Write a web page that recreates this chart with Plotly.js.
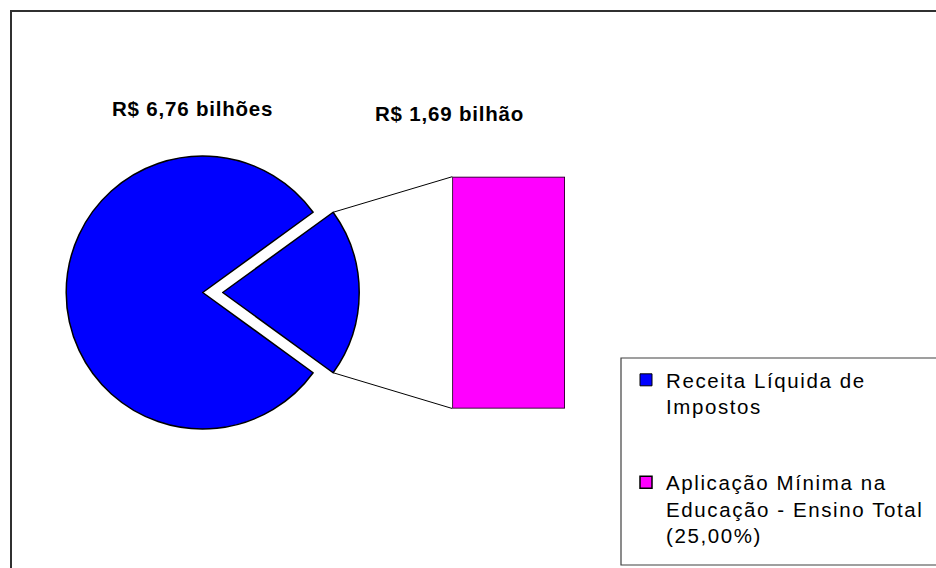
<!DOCTYPE html>
<html>
<head>
<meta charset="utf-8">
<script src="https://cdn.plot.ly/plotly-3.0.1.min.js"></script>
<style>
  html, body { margin: 0; padding: 0; background: #ffffff; }
  #chart { width: 936px; height: 568px; }
  .legendtext { letter-spacing: 1.6px; }
  .annotation-text { letter-spacing: 0.8px; }
</style>
</head>
<body>
<div id="chart"></div>
<script>
// ---- data ----
const sliceLabels = ['Receita Líquida de Impostos', 'Aplicação Mínima na Educação - Ensino Total (25,00%)'];
const sliceValues = [6.76, 1.69];          // R$ bilhões
const legendNames = ['Receita Líquida de<br>Impostos', 'Aplicação Mínima na<br>Educação - Ensino Total<br>(25,00%)'];
const dataLabels = ['R$ 6,76 bilhões', 'R$ 1,69 bilhão'];
const barCategory = ['Outros'];

// ---- layout helpers (pixels of the 936x568 page) ----
const W = 936, H = 568;
const pieCx = 202.7, pieCy = 292.5, pieR = 136.5, pullPx = 20;
const pull = pullPx / pieR;
const half = pieR * (1 + pull);
const pieDomX = [(pieCx - half) / W, (pieCx + half) / W];
const pieDomY = [1 - (pieCy + half) / H, 1 - (pieCy - half) / H];
const barDomX = [452.3 / W, 565 / W];
const barDomY = [1 - 408.5 / H, 1 - 176.7 / H];

const BLUE = '#0000FF', MAGENTA = '#FF00FF';

const total = sliceValues[0] + sliceValues[1];
const smallFrac = sliceValues[1] / total;
// pie rotation so the small slice is centred at 3 o'clock
const rotation = 90 - 360 * (1 - smallFrac / 2) + 360;
const halfAng = Math.PI * smallFrac;

const traces = [
  {
    type: 'pie',
    labels: sliceLabels,
    values: sliceValues,
    sort: false,
    direction: 'clockwise',
    rotation: rotation,
    pull: [0, pull],
    marker: { colors: [BLUE, BLUE], line: { color: '#000000', width: 1.5 } },
    textinfo: 'none',
    hoverinfo: 'label+value',
    showlegend: false,
    domain: { x: pieDomX, y: pieDomY }
  },
  {
    type: 'bar',
    name: legendNames[0],
    x: barCategory,
    y: [null],
    marker: { color: BLUE, line: { color: '#000000', width: 1 } },
    legendgroup: 'g1',
    xaxis: 'x', yaxis: 'y',
    hoverinfo: 'skip'
  },
  {
    type: 'bar',
    name: legendNames[1],
    x: barCategory,
    y: [sliceValues[1]],
    width: [1],
    marker: { color: MAGENTA, line: { color: '#000000', width: 1.5 } },
    legendgroup: 'g2',
    xaxis: 'x', yaxis: 'y',
    hoverinfo: 'y'
  }
];

// connector lines from the pulled slice edge to the bar corners
const sx = pieCx + pullPx + pieR * Math.cos(halfAng);
const syTop = pieCy - pieR * Math.sin(halfAng);
const syBot = pieCy + pieR * Math.sin(halfAng);

const shapes = [
  { type: 'line', xref: 'paper', yref: 'paper',
    x0: sx / W, y0: 1 - syTop / H, x1: barDomX[0], y1: barDomY[1],
    line: { color: '#000000', width: 1 } },
  { type: 'line', xref: 'paper', yref: 'paper',
    x0: sx / W, y0: 1 - syBot / H, x1: barDomX[0], y1: barDomY[0],
    line: { color: '#000000', width: 1 } },
  // legend frame
  { type: 'rect', xref: 'paper', yref: 'paper',
    x0: 621 / W, y0: 1 - 565 / H, x1: 1.05, y1: 1 - 358 / H,
    line: { color: '#404040', width: 1.2 }, fillcolor: 'rgba(0,0,0,0)' },
  // chart area frame
  { type: 'rect', xref: 'paper', yref: 'paper',
    x0: 11 / W, y0: -0.05, x1: 1.05, y1: 1 - 11 / H,
    line: { color: '#303030', width: 2 }, fillcolor: 'rgba(0,0,0,0)' }
];

const labelFont = { family: 'Liberation Sans, Arial, sans-serif', size: 20.5, color: '#000000', weight: 'bold' };
const annotations = [
  { xref: 'paper', yref: 'paper', x: 192.5 / W, y: 1 - 108.5 / H,
    xanchor: 'center', yanchor: 'middle', showarrow: false,
    text: '<b>' + dataLabels[0] + '</b>', font: labelFont },
  { xref: 'paper', yref: 'paper', x: 449 / W, y: 1 - 113 / H,
    xanchor: 'center', yanchor: 'middle', showarrow: false,
    text: '<b>' + dataLabels[1] + '</b>', font: labelFont }
];

const layout = {
  width: W, height: H,
  margin: { l: 0, r: 0, t: 0, b: 0, autoexpand: false },
  paper_bgcolor: '#ffffff',
  plot_bgcolor: 'rgba(0,0,0,0)',
  barmode: 'overlay',
  bargap: 0,
  xaxis: { domain: barDomX, range: [-0.5, 0.5], visible: false, fixedrange: true },
  yaxis: { domain: barDomY, range: [0, sliceValues[1]], visible: false, fixedrange: true },
  showlegend: true,
  legend: {
    x: 626 / W, y: 1 - 360 / H, xanchor: 'left', yanchor: 'top',
    bgcolor: 'rgba(0,0,0,0)', borderwidth: 0,
    font: { family: 'Liberation Sans, Arial, sans-serif', size: 20.5, color: '#000000' },
    valign: 'top',
    traceorder: 'grouped',
    tracegroupgap: 46
  },
  shapes: shapes,
  annotations: annotations
};

Plotly.newPlot('chart', traces, layout, { displayModeBar: false, staticPlot: true });
</script>
</body>
</html>
